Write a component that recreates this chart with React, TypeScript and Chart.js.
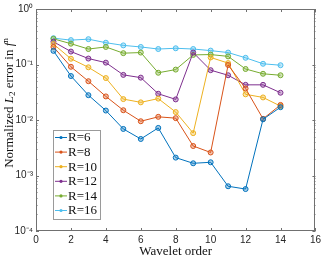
import React, { useEffect, useRef } from "react";
import { Chart, registerables } from "chart.js";

Chart.register(...registerables);

const orders = [1, 2, 3, 4, 5, 6, 7, 8, 9, 10, 11, 12, 13, 14];
const seriesLabels = ["R=6", "R=8", "R=10", "R=12", "R=14", "R=16"];
const seriesColors = ["#0072BD", "#D95319", "#EDB120", "#7E2F8E", "#77AC30", "#4DBEEE"];
const r6 = [0.176, 0.062, 0.028, 0.0148, 0.0069, 0.00455, 0.0072, 0.0021, 0.00166, 0.00173, 0.00064, 0.00057, 0.0103, 0.017];
const r8 = [0.207, 0.091, 0.05, 0.0266, 0.015, 0.0095, 0.0114, 0.0108, 0.0034, 0.0026, 0.098, 0.037, 0.0105, 0.0187];
const r10 = [0.233, 0.127, 0.089, 0.057, 0.0238, 0.0208, 0.0243, 0.0139, 0.0058, 0.134, 0.106, 0.029, 0.0255, 0.0178];
const r12 = [0.257, 0.171, 0.128, 0.108, 0.065, 0.058, 0.0297, 0.0235, 0.164, 0.079, 0.064, 0.043, 0.043, 0.031];
const r14 = [0.29, 0.237, 0.19, 0.207, 0.16, 0.164, 0.071, 0.081, 0.149, 0.151, 0.14, 0.083, 0.068, 0.064];
const r16 = [0.298, 0.275, 0.286, 0.247, 0.221, 0.207, 0.19, 0.196, 0.19, 0.178, 0.164, 0.132, 0.103, 0.097];
const seriesValues = [r6, r8, r10, r12, r14, r16];
const xTickValues = [0, 2, 4, 6, 8, 10, 12, 14, 16];
const yTickValues = [1e-4, 1e-3, 1e-2, 1e-1, 1];
const yTickLabels = ["10⁻⁴", "10⁻³", "10⁻²", "10⁻¹", "10⁰"];
const yTitleParts = [
  { text: "Normalized ", style: "normal" },
  { text: "L", style: "italic" },
  { text: "2", style: "sub" },
  { text: " error in ", style: "normal" },
  { text: "f", style: "italic" },
  { text: "n", style: "sup" },
];

function hexAlpha(hex: string, a: number) {
  const n = parseInt(hex.slice(1), 16);
  return `rgba(${(n >> 16) & 255},${(n >> 8) & 255},${n & 255},${a})`;
}

const boxPlugin = {
  id: "boxTicks",
  afterDraw(chart: any) {
    const { ctx, chartArea } = chart;
    const { left, right, top, bottom } = chartArea;
    const x = chart.scales.x;
    const y = chart.scales.y;
    ctx.save();
    ctx.strokeStyle = "#707070";
    ctx.lineWidth = 1;
    ctx.strokeRect(Math.round(left) + 0.5, Math.round(top) + 0.5, Math.round(right - left) - 1, Math.round(bottom - top) - 1);
    ctx.beginPath();
    for (const v of xTickValues) {
      const px = Math.round(x.getPixelForValue(v)) + 0.5;
      ctx.moveTo(px, bottom);
      ctx.lineTo(px, bottom - 3);
      ctx.moveTo(px, top);
      ctx.lineTo(px, top + 3);
    }
    for (let e = -4; e <= 0; e++) {
      for (let m = 1; m <= 9; m++) {
        const v = m * Math.pow(10, e);
        if (v > 1) break;
        const py = Math.round(y.getPixelForValue(v)) + 0.5;
        const len = m === 1 ? 3 : 1.5;
        ctx.moveTo(left, py);
        ctx.lineTo(left + len, py);
        ctx.moveTo(right, py);
        ctx.lineTo(right - len, py);
      }
    }
    ctx.stroke();

    // legend
    const lx = 53, ly = 130, lw = 47, lh = 89;
    ctx.fillStyle = "#ffffff";
    ctx.fillRect(lx, ly, lw, lh);
    ctx.strokeStyle = "#9a9a9a";
    ctx.strokeRect(lx + 0.5, ly + 0.5, lw, lh);
    ctx.font = "13px 'Liberation Serif'";
    ctx.textBaseline = "middle";
    chart.data.datasets.forEach((ds: any, i: number) => {
      const cy = ly + 7.5 + i * 14.6;
      ctx.strokeStyle = ds.borderColor;
      ctx.lineWidth = 1;
      ctx.beginPath();
      ctx.moveTo(lx + 2, cy);
      ctx.lineTo(lx + 14, cy);
      ctx.stroke();
      ctx.fillStyle = ds.borderColor;
      ctx.beginPath();
      ctx.arc(lx + 8, cy, 1.6, 0, Math.PI * 2);
      ctx.fill();
      ctx.fillStyle = "#111";
      ctx.fillText(ds.label, lx + 15, cy + 0.5);
    });

    // y title with italic / sub / superscript parts
    const base = 13;
    const fontFor = (st: string) =>
      st === "italic"
        ? `italic ${base}px 'Liberation Serif'`
        : st === "sub" || st === "sup"
        ? `${base * 0.7}px 'Liberation Serif'`
        : `${base}px 'Liberation Serif'`;
    let total = 0;
    const widths = yTitleParts.map((p) => {
      ctx.font = fontFor(p.style);
      const w = ctx.measureText(p.text).width;
      total += w;
      return w;
    });
    ctx.translate(10, 103);
    ctx.rotate(-Math.PI / 2);
    ctx.fillStyle = "#111";
    ctx.textBaseline = "middle";
    ctx.textAlign = "left";
    let cx = -total / 2;
    yTitleParts.forEach((p, i) => {
      ctx.font = fontFor(p.style);
      const dy = p.style === "sub" ? 3 : p.style === "sup" ? -4.5 : 0;
      ctx.fillText(p.text, cx, dy);
      cx += widths[i];
    });
    ctx.restore();
  },
};

export default function App() {
  const ref = useRef<HTMLCanvasElement>(null);
  useEffect(() => {
    if (!ref.current) return;
    const chart = new Chart(ref.current, {
      type: "line",
      data: {
        labels: orders,
        datasets: seriesValues.map((vals, i) => ({
          label: seriesLabels[i],
          data: vals.map((v, j) => ({ x: orders[j], y: v })),
          borderColor: seriesColors[i],
          backgroundColor: hexAlpha(seriesColors[i], 0.35),
          borderWidth: 1,
          pointRadius: 2.5,
          pointBorderWidth: 1,
          pointBorderColor: seriesColors[i],
          pointBackgroundColor: hexAlpha(seriesColors[i], 0.35),
          tension: 0,
        })),
      },
      options: {
        animation: false,
        responsive: false,
        devicePixelRatio: 1,
        layout: { padding: { top: 5, right: 4, left: 0, bottom: 0 } },
        plugins: { legend: { display: false }, tooltip: { enabled: false } },
        scales: {
          x: {
            type: "linear",
            min: 0,
            max: 16,
            afterBuildTicks: (s: any) => {
              s.ticks = xTickValues.map((v) => ({ value: v }));
            },
            afterFit: (s: any) => {
              s.height = 24;
            },
            grid: { display: false, drawTicks: false },
            border: { display: false },
            ticks: { color: "#262626", font: { family: "'Liberation Sans'", size: 10 }, padding: 3, maxRotation: 0 },
            title: { display: true, text: "Wavelet order", color: "#111", font: { family: "'Liberation Serif'", size: 13 }, padding: { top: 0, bottom: -4 } },
          },
          y: {
            type: "logarithmic",
            min: 1e-4,
            max: 1,
            afterBuildTicks: (s: any) => {
              s.ticks = yTickValues.map((v) => ({ value: v }));
            },
            afterFit: (s: any) => {
              s.width = 36;
            },
            grid: { display: false, drawTicks: false },
            border: { display: false },
            ticks: {
              color: "#262626",
              font: { family: "'Liberation Sans'", size: 10 },
              padding: 3,
              callback: (v: any) => {
                const idx = yTickValues.findIndex((t) => Math.abs(t - v) / t < 1e-6);
                return idx >= 0 ? yTickLabels[idx] : "";
              },
            },
            title: { display: false },
          },
        },
      },
      plugins: [boxPlugin],
    });
    return () => chart.destroy();
  }, []);
  return (
    <div style={{ position: "absolute", left: 0, top: 0, width: 324, height: 255, background: "#fff" }}>
      <canvas ref={ref} width={324} height={255} />
    </div>
  );
}
